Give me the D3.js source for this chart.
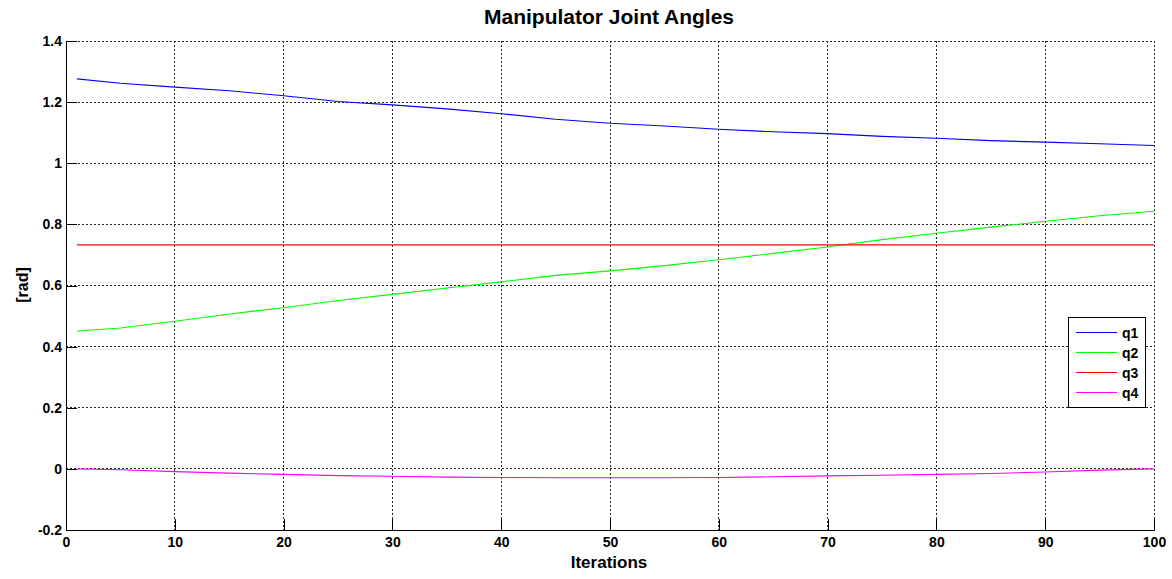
<!DOCTYPE html>
<html>
 <head>
   <meta charset="utf-8" />
   <title>Manipulator Joint Angles</title>
   <script src="https://cdn.jsdelivr.net/npm/d3@7/dist/d3.min.js"></script>
   <style>
     body { margin: 0; background: #fff; }
     text { font-family: "Liberation Sans", Arial, sans-serif; font-weight: bold; fill: #000; }
   </style>
 </head>

 <body>
   <script>
     var width = 1172, height = 579;

     // values
     var iterations = [1, 5, 10, 15, 20, 25, 30, 35, 40, 45, 50, 55, 60, 65, 70, 75, 80, 85, 90, 95, 100];
     var q1 = [1.276, 1.262, 1.249, 1.237, 1.221, 1.202, 1.191, 1.178, 1.162, 1.144, 1.131, 1.122, 1.111, 1.103, 1.097, 1.088, 1.082, 1.074, 1.069, 1.064, 1.058];
     var q2 = [0.451, 0.461, 0.483, 0.507, 0.527, 0.551, 0.571, 0.592, 0.612, 0.633, 0.648, 0.665, 0.684, 0.705, 0.726, 0.750, 0.771, 0.791, 0.810, 0.828, 0.843];
     var q3 = [0.733, 0.733, 0.733, 0.733, 0.733, 0.733, 0.733, 0.733, 0.733, 0.733, 0.733, 0.733, 0.733, 0.733, 0.733, 0.733, 0.733, 0.733, 0.733, 0.733, 0.733];
     var q4 = [0, -0.003, -0.009, -0.014, -0.018, -0.022, -0.024, -0.027, -0.028, -0.029, -0.029, -0.029, -0.028, -0.026, -0.023, -0.021, -0.018, -0.015, -0.010, -0.004, 0];
     var seriesNames = ["q1", "q2", "q3", "q4"];
     var seriesColors = ["#0000ff", "#00ff00", "#ff0000", "#ff00ff"];
     var xTicks = [0, 10, 20, 30, 40, 50, 60, 70, 80, 90, 100];
     var yTicks = [-0.2, 0, 0.2, 0.4, 0.6, 0.8, 1, 1.2, 1.4];

     var plotLeft = 66, plotRight = 1154, plotTop = 41, plotBottom = 530;

     var x = d3.scaleLinear().domain([0, 100]).range([plotLeft, plotRight]);
     var y = d3.scaleLinear().domain([-0.2, 1.4]).range([plotBottom, plotTop]);

     var svg = d3.select("body")
                 .append("svg")
                 .attr("width",  width)
                 .attr("height", height);

     // grid
     var grid = svg.append("g")
                 .attr("stroke", "#222")
                 .attr("stroke-width", 1)
                 .attr("stroke-dasharray", "2,2")
                 .attr("shape-rendering", "crispEdges");

     grid.selectAll("line.v").data(xTicks).enter().append("line")
           .attr("class", "v")
           .attr("x1", function(d) { return x(d); })
           .attr("x2", function(d) { return x(d); })
           .attr("y1", plotTop).attr("y2", plotBottom);

     grid.selectAll("line.h").data(yTicks).enter().append("line")
           .attr("class", "h")
           .attr("x1", plotLeft).attr("x2", plotRight)
           .attr("y1", function(d) { return y(d); })
           .attr("y2", function(d) { return y(d); });

     // axes, ticks pointing inward
     var xAxis = d3.axisBottom(x)
                 .tickValues(xTicks)
                 .tickSize(-11)
                 .tickSizeOuter(0)
                 .tickPadding(7)
                 .tickFormat(d3.format("d"));

     var yAxis = d3.axisLeft(y)
                 .tickValues(yTicks)
                 .tickSize(-11)
                 .tickSizeOuter(0)
                 .tickPadding(4)
                 .tickFormat(function(d) { return String(+d.toFixed(1)); });

     var gx = svg.append("g")
                 .attr("transform", "translate(0," + plotBottom + ")")
                 .call(xAxis);

     var gy = svg.append("g")
                 .attr("transform", "translate(" + plotLeft + ",0)")
                 .call(yAxis);

     [gx, gy].forEach(function(g) {
       g.selectAll(".domain").attr("stroke", "#000").attr("shape-rendering", "crispEdges");
       g.selectAll(".tick line").attr("stroke", "#000").attr("shape-rendering", "crispEdges");
       g.selectAll(".tick text")
           .style("font-family", "'Liberation Sans', Arial, sans-serif")
           .style("font-weight", "bold")
           .style("font-size", "14px")
           .attr("fill", "#000");
     });

     // series lines
     var allSeries = [q1, q2, q3, q4];
     var line = d3.line()
                 .x(function(d, i) { return x(iterations[i]); })
                 .y(function(d) { return y(d); });

     svg.append("g").selectAll("path")
           .data(allSeries)
           .enter().append("path")
           .attr("d", line)
           .attr("fill", "none")
           .attr("stroke", function(d, i) { return seriesColors[i]; })
           .attr("stroke-width", 1.1);

     // labels
     svg.append("text")
           .attr("x", 609).attr("y", 24)
           .attr("text-anchor", "middle")
           .style("font-size", "21px")
           .text("Manipulator Joint Angles");

     svg.append("text")
           .attr("x", 609).attr("y", 568)
           .attr("text-anchor", "middle")
           .style("font-size", "17px")
           .text("Iterations");

     svg.append("text")
           .attr("transform", "translate(28,285) rotate(-90)")
           .attr("text-anchor", "middle")
           .style("font-size", "16px")
           .text("[rad]");

     // legend
     var legend = svg.append("g");
     legend.append("rect")
           .attr("x", 1068.5).attr("y", 317.5)
           .attr("width", 77).attr("height", 90)
           .attr("fill", "#fff")
           .attr("stroke", "#000");

     var items = legend.selectAll("g.item").data(seriesNames).enter().append("g")
           .attr("class", "item")
           .attr("transform", function(d, i) { return "translate(0," + (332.5 + i * 20) + ")"; });

     items.append("line")
           .attr("x1", 1076).attr("x2", 1117)
           .attr("y1", 0).attr("y2", 0)
           .attr("stroke", function(d, i) { return seriesColors[i]; })
           .attr("stroke-width", 1);

     items.append("text")
           .attr("x", 1122).attr("y", 5)
           .style("font-size", "14px")
           .text(function(d) { return d; });
   </script>
 </body>
</html>
